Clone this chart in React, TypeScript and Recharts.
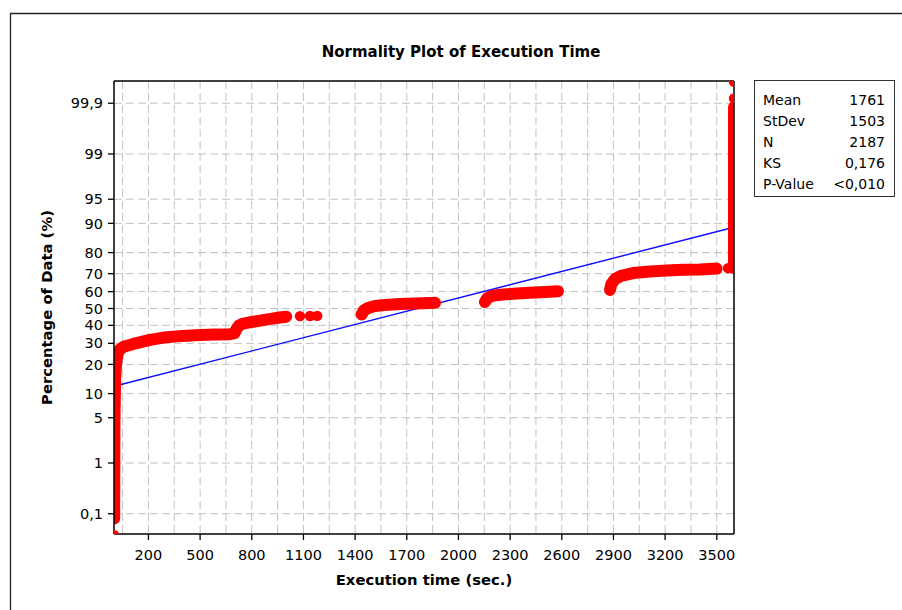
import React from 'react';
import {
  ComposedChart,
  Line,
  Scatter,
  XAxis,
  YAxis,
  CartesianGrid,
  ReferenceLine,
} from 'recharts';

// Each run is [execution time (sec), cumulative percentage of data]
const runFast: [number, number][] = [
  [1, 0.078], [1, 0.123], [1, 0.2], [1.5, 0.35], [1.5, 0.6], [2, 1.0], [2, 1.8],
  [2.5, 3], [3, 5], [4, 7.5], [5, 10], [6, 13], [9, 17], [12, 20], [17, 23],
  [24, 25.4], [35, 26.9], [55, 28.2], [112, 29.7], [209, 31.8], [306, 33.3],
  [400, 34.0], [499, 34.5], [586, 34.8], [673, 34.9], [700, 35.5], [712, 38.0],
  [725, 39.8], [745, 40.8], [790, 41.8], [850, 42.8], [910, 43.8], [960, 44.6],
  [1000, 45.1],
];
const runMid: [number, number][] = [
  [1438, 46.4], [1451, 48.8], [1475, 50.3], [1515, 51.5], [1573, 52.1],
  [1660, 52.7], [1748, 53.0], [1835, 53.3], [1864, 53.4],
];
const runLate: [number, number][] = [
  [2154, 53.9], [2166, 56.0], [2195, 57.5], [2241, 58.2], [2338, 58.9],
  [2415, 59.4], [2502, 59.8], [2578, 60.2],
];
const runSlow: [number, number][] = [
  [2880, 61.0], [2888, 64.4], [2909, 67.1], [2944, 68.8], [3015, 70.3],
  [3112, 71.1], [3209, 71.6], [3304, 72.0], [3402, 72.2], [3499, 72.6],
];
const runTimeout: [number, number][] = [
  [3600, 72.9], [3600, 80], [3600, 90], [3600, 95], [3600, 98], [3600, 99],
  [3600, 99.5], [3600, 99.8], [3600, 99.877],
];
const singlePoints: [number, number][] = [
  [1, 0.032], [1080, 45.4], [1138, 45.5], [1180, 45.6], [3565, 72.8],
  [3600, 99.922], [3600, 99.968],
];

// Fitted normal distribution summary
const statLabels = ['Mean', 'StDev', 'N', 'KS', 'P-Value'];
const statValues = ['1761', '1503', '2187', '0,176', '<0,010'];
const fitMean = 1761;
const fitStdev = 1503;
const fitRange = [1, 3600];

const xTicks = [200, 500, 800, 1100, 1400, 1700, 2000, 2300, 2600, 2900, 3200, 3500];
const xGrid = [
  50, 200, 350, 500, 650, 800, 950, 1100, 1250, 1400, 1550, 1700, 1850, 2000,
  2150, 2300, 2450, 2600, 2750, 2900, 3050, 3200, 3350, 3500,
];
const yTickPercents = [0.1, 1, 5, 10, 20, 30, 40, 50, 60, 70, 80, 90, 95, 99, 99.9];
const yTickLabels = ['0,1', '1', '5', '10', '20', '30', '40', '50', '60', '70', '80', '90', '95', '99', '99,9'];

// Inverse of the standard normal CDF (Acklam's rational approximation)
function probit(p: number): number {
  const a = [-39.69683028665376, 220.9460984245205, -275.9285104469687, 138.357751867269, -30.66479806614716, 2.506628277459239];
  const b = [-54.47609879822406, 161.5858368580409, -155.6989798598866, 66.80131188771972, -13.28068155288572];
  const c = [-0.007784894002430293, -0.3223964580411365, -2.400758277161838, -2.549671348386470, 4.374664141464968, 2.938163982698783];
  const d = [0.007784695709041462, 0.3224671290700398, 2.445134137142996, 3.754408661907416];
  const lo = 0.02425;
  if (p < lo) {
    const q = Math.sqrt(-2 * Math.log(p));
    return (((((c[0] * q + c[1]) * q + c[2]) * q + c[3]) * q + c[4]) * q + c[5]) /
      ((((d[0] * q + d[1]) * q + d[2]) * q + d[3]) * q + 1);
  }
  if (p > 1 - lo) {
    const q = Math.sqrt(-2 * Math.log(1 - p));
    return -(((((c[0] * q + c[1]) * q + c[2]) * q + c[3]) * q + c[4]) * q + c[5]) /
      ((((d[0] * q + d[1]) * q + d[2]) * q + d[3]) * q + 1);
  }
  const q = p - 0.5;
  const r = q * q;
  return (((((a[0] * r + a[1]) * r + a[2]) * r + a[3]) * r + a[4]) * r + a[5]) * q /
    (((((b[0] * r + b[1]) * r + b[2]) * r + b[3]) * r + b[4]) * r + 1);
}

const toRows = (pts: [number, number][]) => pts.map(([t, pct]) => ({ t, z: probit(pct / 100) }));

const redRuns = [runFast, runMid, runLate, runSlow, runTimeout].map(toRows);
const singleRows = toRows(singlePoints);
const fitRows = fitRange.map((t) => ({ t, z: (t - fitMean) / fitStdev }));
const yTickZ = yTickPercents.map((p) => probit(p / 100));
const Z_MIN = -3.395;
const Z_MAX = 3.425;

const tickLabelFor = (v: number) => {
  const i = yTickZ.findIndex((z) => Math.abs(z - v) < 1e-6);
  return i >= 0 ? yTickLabels[i] : '';
};

const RedDot = (props: any) => <circle cx={props.cx} cy={props.cy} r={5.2} fill="#ff0000" />;

const tickStyle = { fill: '#000', fontSize: 14.5, fontFamily: 'DejaVu Sans' };

export default function App() {
  return (
    <div
      style={{
        position: 'absolute',
        left: 0,
        top: 0,
        width: 902,
        height: 610,
        overflow: 'hidden',
        background: '#fff',
        fontFamily: 'DejaVu Sans',
      }}
    >
      <ComposedChart width={902} height={610} margin={{ top: 81, right: 168, bottom: 46, left: 54 }}>
        <CartesianGrid
          stroke="#c2c2c2"
          strokeDasharray="8 4"
          verticalValues={xGrid}
          horizontalValues={yTickZ}
        />
        <XAxis
          type="number"
          dataKey="t"
          domain={[0, 3600]}
          allowDataOverflow
          ticks={xTicks}
          interval={0}
          height={30}
          tickSize={6}
          tickMargin={10}
          tick={tickStyle}
          axisLine={{ stroke: '#000', strokeWidth: 1.5 }}
          tickLine={{ stroke: '#000', strokeWidth: 1.3 }}
        />
        <YAxis
          type="number"
          domain={[Z_MIN, Z_MAX]}
          allowDataOverflow
          ticks={yTickZ}
          interval={0}
          width={60}
          tickSize={6}
          tickMargin={5}
          tick={tickStyle}
          tickFormatter={tickLabelFor}
          axisLine={{ stroke: '#000', strokeWidth: 1.5 }}
          tickLine={{ stroke: '#000', strokeWidth: 1.3 }}
        />
        <Line
          data={fitRows}
          dataKey="z"
          stroke="#0a0aff"
          strokeWidth={1.4}
          dot={false}
          activeDot={false}
          isAnimationActive={false}
        />
        {redRuns.map((rows, i) => (
          <Line
            key={i}
            data={rows}
            dataKey="z"
            stroke="#ff0000"
            strokeWidth={12}
            strokeLinecap="round"
            strokeLinejoin="round"
            dot={false}
            activeDot={false}
            isAnimationActive={false}
          />
        ))}
        <Scatter data={singleRows} dataKey="z" fill="#ff0000" shape={RedDot} isAnimationActive={false} />
        <ReferenceLine y={Z_MAX} stroke="#000" strokeWidth={1.5} ifOverflow="visible" />
        <ReferenceLine x={3600} stroke="#000" strokeWidth={1.5} ifOverflow="visible" />
      </ComposedChart>
      <svg
        width={902}
        height={610}
        style={{ position: 'absolute', left: 0, top: 0, pointerEvents: 'none' }}
      >
        <path d="M10.5 610 L10.5 13.5 L902 13.5" fill="none" stroke="#222" strokeWidth={1.3} />
        <text x={461} y={57} textAnchor="middle" fontFamily="DejaVu Sans" fontWeight="bold" fontSize={15} fill="#000">
          Normality Plot of Execution Time
        </text>
        <text x={424} y={585} textAnchor="middle" fontFamily="DejaVu Sans" fontWeight="bold" fontSize={14.8} fill="#000">
          Execution time (sec.)
        </text>
        <text
          x={0}
          y={0}
          transform="translate(52 307.5) rotate(-90)"
          textAnchor="middle"
          fontFamily="DejaVu Sans"
          fontWeight="bold"
          fontSize={14.8}
          fill="#000"
        >
          Percentage of Data (%)
        </text>
        <rect x={754.5} y={80.5} width={140} height={116} fill="#fff" stroke="#333" strokeWidth={1} />
        {statLabels.map((label, i) => (
          <g key={label}>
            <text x={763} y={105 + i * 21} fontFamily="DejaVu Sans" fontSize={14} fill="#000">
              {label}
            </text>
            <text x={885} y={105 + i * 21} textAnchor="end" fontFamily="DejaVu Sans" fontSize={14} fill="#000">
              {statValues[i]}
            </text>
          </g>
        ))}
      </svg>
    </div>
  );
}
